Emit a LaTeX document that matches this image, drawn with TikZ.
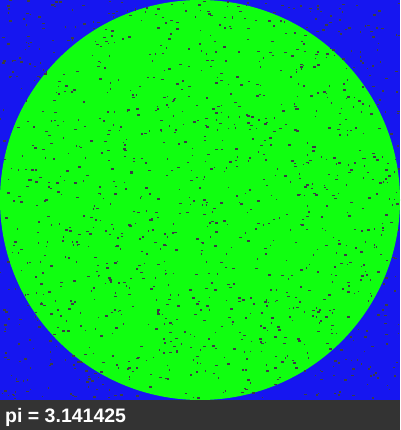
\documentclass[tikz,border=0pt]{standalone}
\usepackage{fontspec}
\setmainfont{Liberation Sans}
\definecolor{bgblue}{RGB}{22,22,240}
\definecolor{disk}{RGB}{16,255,16}
\definecolor{bar}{RGB}{51,51,51}
\definecolor{speck}{RGB}{60,60,70}
\tikzset{speckmark/.style={fill=speck}}
\begin{document}
\begin{tikzpicture}[x=1pt,y=-1pt]
\useasboundingbox (0,0) rectangle (400,430);
\fill[bgblue] (0,0) rectangle (400,400);
\fill[disk] (200,200) circle[radius=200];
\pgfmathsetseed{31415}
\foreach \i in {1,...,1300}{
  \pgfmathsetmacro{\px}{int(random(0,398))}
  \pgfmathsetmacro{\py}{int(random(0,398))}
  \pgfmathsetmacro{\w}{random(1,3)}
  \pgfmathsetmacro{\h}{random(1,2)}
  \fill[speckmark] (\px,\py) rectangle ++(\w,\h);
}
\fill[bar] (0,400) rectangle (400,430);
\node[anchor=base west,text=white,font=\bfseries\fontsize{19.5}{22}\selectfont,inner sep=0pt] (label) at (5,422) {pi = 3.141425};
\end{tikzpicture}
\end{document}
